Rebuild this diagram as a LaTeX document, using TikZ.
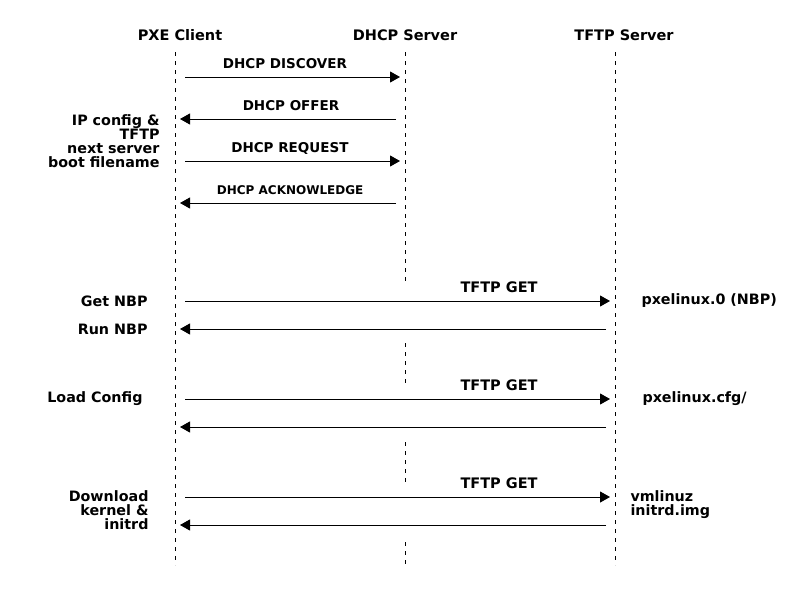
\documentclass[tikz,border=0pt]{standalone}
\usepackage{fontspec}
\setmainfont{DejaVu Sans}
\usetikzlibrary{arrows.meta,positioning}

\begin{document}
\begin{tikzpicture}[x=1pt,y=-1pt,>={Triangle[length=10pt,width=11pt]},line width=1pt]

  \tikzstyle{lifeline}=[dash pattern=on 4pt off 5pt]
  \tikzstyle{msg}=[->]
  \tikzstyle{entity}=[inner sep=0pt,anchor=base,font=\fontsize{14.5}{17}\selectfont\bfseries]
  \tikzstyle{msgtext}=[inner sep=0pt,anchor=base,yshift=9pt,font=\fontsize{13.5}{16}\selectfont\bfseries]
  \tikzstyle{lefttext}=[inner sep=0pt,anchor=east,align=right,font=\fontsize{14.3}{14}\selectfont\bfseries]
  \tikzstyle{righttext}=[inner sep=0pt,anchor=west,align=left,font=\fontsize{14.3}{14}\selectfont\bfseries]

  \fill[white] (0,0) rectangle (810,602);
  \useasboundingbox (0,0) rectangle (810,602);

  % Entities
  \node [entity] (pxe)  at (180,41) {PXE Client};
  \node [entity] (dhcp) at (405,41) {DHCP Server};
  \node [entity] (tftp) at (624,41) {TFTP Server};

  % Lifelines
  \draw [lifeline] (175,52) -- (175,565);
  \draw [lifeline] (615,52) -- (615,565);
  \draw [lifeline] (405,52) -- (405,285);
  \draw [lifeline] (405,343) -- (405,385);
  \draw [lifeline] (405,442) -- (405,484);
  \draw [lifeline] (405,542) -- (405,565);

  % DHCP exchange
  \coordinate (a1) at (185,77);  \coordinate (b1) at (400,77);
  \coordinate (a2) at (180,119); \coordinate (b2) at (396,119);
  \coordinate (a3) at (185,161); \coordinate (b3) at (400,161);
  \coordinate (a4) at (180,203); \coordinate (b4) at (396,203);

  \draw [msg] (a1) -- node [msgtext,pos=.465] {DHCP DISCOVER} (b1);
  \draw [msg] (b2) -- node [msgtext,pos=.486] {DHCP OFFER} (a2);
  \draw [msg] (a3) -- node [msgtext,pos=.488] {DHCP REQUEST} (b3);
  \draw [msg] (b4) -- node [msgtext,pos=.49,font=\fontsize{12}{14}\selectfont\bfseries] {DHCP ACKNOWLEDGE} (a4);

  \node [lefttext] (ipcfg) at (160,141) {IP config \&\\TFTP\\next server\\boot filename};

  % TFTP exchange
  \coordinate (a5) at (185,301);  \coordinate (c5) at (610,301);
  \coordinate (a6) at (180,329);  \coordinate (c6) at (606,329);
  \coordinate (a7) at (185,399);  \coordinate (c7) at (610,399);
  \coordinate (a8) at (180,427);  \coordinate (c8) at (606,427);
  \coordinate (a9) at (185,497);  \coordinate (c9) at (610,497);
  \coordinate (a10) at (180,525); \coordinate (c10) at (606,525);

  \draw [msg] (a5) -- node [msgtext,pos=.739,font=\fontsize{14.5}{17}\selectfont\bfseries] {TFTP GET} (c5);
  \draw [msg] (c6) -- (a6);
  \draw [msg] (a7) -- node [msgtext,pos=.739,font=\fontsize{14.5}{17}\selectfont\bfseries] {TFTP GET} (c7);
  \draw [msg] (c8) -- (a8);
  \draw [msg] (a9) -- node [msgtext,pos=.739,font=\fontsize{14.5}{17}\selectfont\bfseries] {TFTP GET} (c9);
  \draw [msg] (c10) -- (a10);

  \node [lefttext] (getnbp) at (148,301) {Get NBP};
  \node [lefttext] (runnbp) at (148,329) {Run NBP};
  \node [lefttext] (loadcfg) at (143,399) {Load Config};
  \node [lefttext] (download) at (149,510.5) {Download\\kernel \&\\initrd};

  \node [righttext] (nbp) at (641,301) {pxelinux.0 (NBP)};
  \node [righttext] (cfg) at (642,399) {pxelinux.cfg/};
  \node [righttext] (kernel) at (630,505) {vmlinuz\\initrd.img};

\end{tikzpicture}
\end{document}
